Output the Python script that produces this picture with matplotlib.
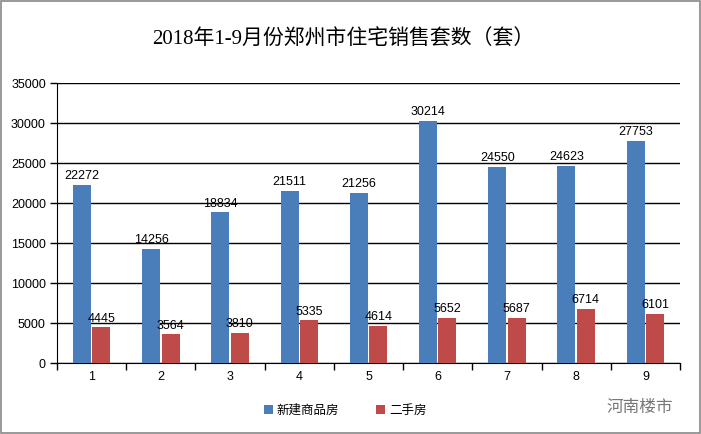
import matplotlib
matplotlib.use("Agg")
import matplotlib.pyplot as plt
from matplotlib.patches import Rectangle
import numpy as np

plt.rcParams['font.family'] = ['Liberation Sans', 'Noto Sans CJK SC', 'DejaVu Sans']

months = ['1', '2', '3', '4', '5', '6', '7', '8', '9']
new_homes = [22272, 14256, 18834, 21511, 21256, 30214, 24550, 24623, 27753]
second_hand = [4445, 3564, 3810, 5335, 4614, 5652, 5687, 6714, 6101]
series_names = ['新建商品房', '二手房']
title = '2018年1-9月份郑州市住宅销售套数（套）'
yticks = [0, 5000, 10000, 15000, 20000, 25000, 30000, 35000]

blue = '#4a7ebb'
red = '#be4b48'

fig = plt.figure(figsize=(7.01, 4.34), dpi=100)
ax = fig.add_axes([57/701, 1-363/434, (680-57)/701, (363-83)/434])

x = np.arange(len(months))
w = 0.26
gap = 0.02
b1 = ax.bar(x - w/2 - gap/2, new_homes, width=w, color=blue, zorder=3, label=series_names[0])
b2 = ax.bar(x + w/2 + gap/2, second_hand, width=w, color=red, zorder=3, label=series_names[1])

for rect, v in zip(b1, new_homes):
    ax.text(rect.get_x() + rect.get_width()/2, v + 350, str(v), ha='center', va='bottom',
            fontsize=9, color='black', zorder=4)
for rect, v in zip(b2, second_hand):
    ax.text(rect.get_x() + rect.get_width()/2, v + 350, str(v), ha='center', va='bottom',
            fontsize=9, color='black', zorder=4)

ax.set_xlim(-0.5, len(months) - 0.5)
ax.set_ylim(0, 35000)
ax.set_yticks(yticks)
ax.set_yticklabels([str(t) for t in yticks], fontsize=9)
ax.yaxis.grid(True, color='black', linewidth=1.0, zorder=0)
ax.set_axisbelow(True)

ax.set_xticks(x)
ax.set_xticklabels(months, fontsize=9)
ax.tick_params(axis='x', length=0, pad=6)
ax.set_xticks(np.arange(-0.5, len(months)), minor=True)
ax.tick_params(axis='x', which='minor', length=5, width=1, direction='out', color='black')
ax.tick_params(axis='y', length=5, width=1, direction='out', color='black', pad=3)

for s in ['top', 'right']:
    ax.spines[s].set_visible(False)
ax.spines['left'].set_color('black')
ax.spines['bottom'].set_color('black')

fig.text(343/701, 1-40/434, title, ha='center', va='center', fontsize=15,
         family=['Liberation Serif', 'Noto Sans CJK SC', 'DejaVu Sans'], color='black')

leg = fig.legend(handles=[b1, b2], labels=series_names, loc='center',
                 bbox_to_anchor=(345/701, 1-410/434), ncol=2, frameon=False,
                 prop={'family': ['Noto Sans CJK SC', 'DejaVu Sans'], 'size': 9},
                 handlelength=0.7, handleheight=0.7, handletextpad=0.3, columnspacing=3.0)

fig.text(640/701, 1-407/434, '河南楼市', ha='center', va='center', fontsize=12,
         family=['Noto Sans CJK SC', 'DejaVu Sans'], color='#777777')

fig.patches.append(Rectangle((0.002, 0.002), 0.996, 0.996, transform=fig.transFigure,
                             fill=False, edgecolor='#888888', linewidth=1.2))

fig.savefig('out.png', dpi=100)
